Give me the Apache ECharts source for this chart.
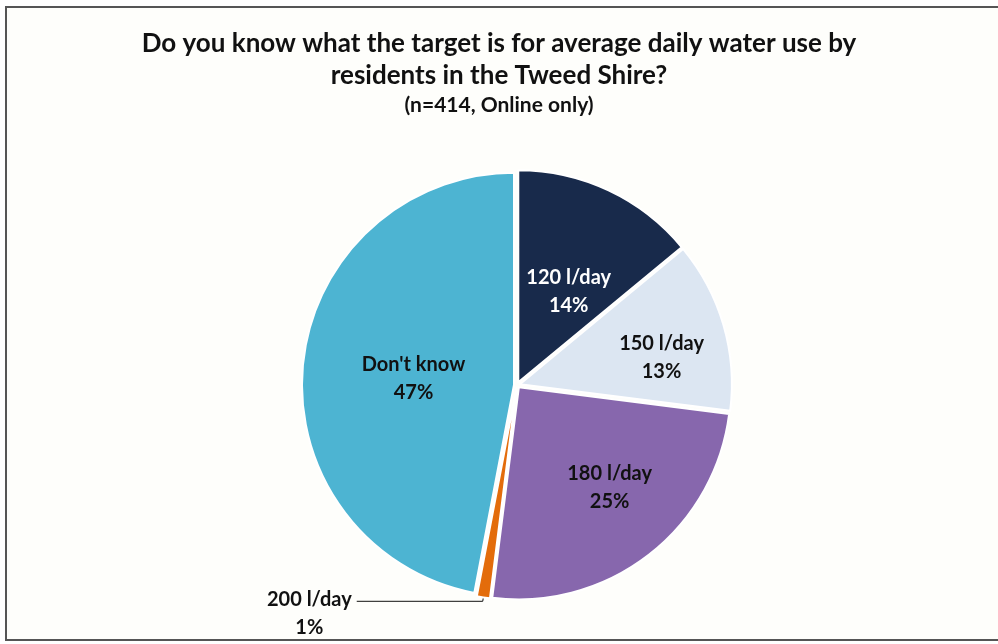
<!DOCTYPE html>
<html>
<head>
<meta charset="utf-8">
<script src="https://cdn.jsdelivr.net/npm/echarts@6/dist/echarts.min.js"></script>
<style>
  html, body { margin: 0; padding: 0; background: #ffffff; }
  #chart { width: 998px; height: 644px; }
</style>
</head>
<body>
<div id="chart"></div>
<script>
// Survey answers, clockwise from 12 o'clock
const categories = ['120 l/day', '150 l/day', '180 l/day', '200 l/day', "Don't know"];
const shares = [14, 13, 25, 1, 47];
const sliceColors = ['#182a4b', '#dce6f2', '#8767ad', '#e36c0b', '#4db4d2'];
const labelColors = ['#ffffff', '#111111', '#111111', '#111111', '#111111'];
// nudges for the in-slice labels (px), so they sit toward the wide part of each slice
const labelNudges = [[4, 8], [37, 4], [24, 14], [0, 0], [8, 4]];

const titleLines = [
  'Do you know what the target is for average daily water use by',
  'residents in the Tweed Shire?'
];
const subtitle = '(n=414, Online only)';

const FONT = 'Lato, "Open Sans", sans-serif';
const SMALL_SHARE = 5;

const pieData = categories.map((name, i) => {
  const item = {
    name: name,
    value: shares[i],
    selected: true,
    itemStyle: { color: sliceColors[i] },
    label: { color: labelColors[i] }
  };
  if (shares[i] < SMALL_SHARE) {
    // tiny slice: label sits outside, joined by a leader line
    item.label = {
      position: 'outside',
      color: '#111111',
      formatter: p => '{s| }\n{t|' + p.name + '}\n{t|' + p.value + '%}',
      rich: {
        s: { lineHeight: 24, fontSize: 4 },
        t: {
          fontFamily: FONT, fontWeight: 'bold', fontSize: 20,
          lineHeight: 28, color: '#111111', align: 'center'
        }
      }
    };
    item.labelLine = {
      show: true,
      length: 4,
      length2: 126,
      lineStyle: { color: '#111111', width: 1 }
    };
  }
  return item;
});

const chart = echarts.init(document.getElementById('chart'), null, { renderer: 'canvas' });

chart.setOption({
  backgroundColor: '#ffffff',
  animation: false,
  graphic: [
    {
      type: 'rect',
      shape: { x: 6, y: 7, width: 1000, height: 633 },
      style: { fill: '#fefefb', stroke: '#555555', lineWidth: 2 },
      z: -10
    }
  ],
  title: [
    {
      text: titleLines.join('\n'),
      left: 'center',
      top: 28,
      padding: 0,
      textStyle: {
        fontFamily: FONT,
        fontWeight: 'bold',
        fontSize: 26,
        lineHeight: 32,
        color: '#111111'
      }
    },
    {
      text: subtitle,
      left: 'center',
      top: 95,
      padding: 0,
      textStyle: {
        fontFamily: FONT,
        fontWeight: 'bold',
        fontSize: 21,
        lineHeight: 20,
        color: '#111111'
      }
    }
  ],
  series: [
    {
      type: 'pie',
      center: [517, 385],
      radius: [0, 212],
      startAngle: 90,
      clockwise: true,
      avoidLabelOverlap: false,
      selectedMode: 'multiple',
      selectedOffset: 3,
      itemStyle: {
        borderColor: '#ffffff',
        borderWidth: 2
      },
      label: {
        show: true,
        position: 'inner',
        formatter: p => p.name + '\n' + p.value + '%',
        fontFamily: FONT,
        fontWeight: 'bold',
        fontSize: 20,
        lineHeight: 28,
        align: 'center'
      },
      labelLayout: params => {
        if (shares[params.dataIndex] < SMALL_SHARE) return {};
        const n = labelNudges[params.dataIndex];
        return { dx: n[0], dy: n[1] };
      },
      labelLine: { show: false },
      emphasis: { disabled: true },
      select: { disabled: false, itemStyle: {} },
      data: pieData
    }
  ]
});
</script>
</body>
</html>
